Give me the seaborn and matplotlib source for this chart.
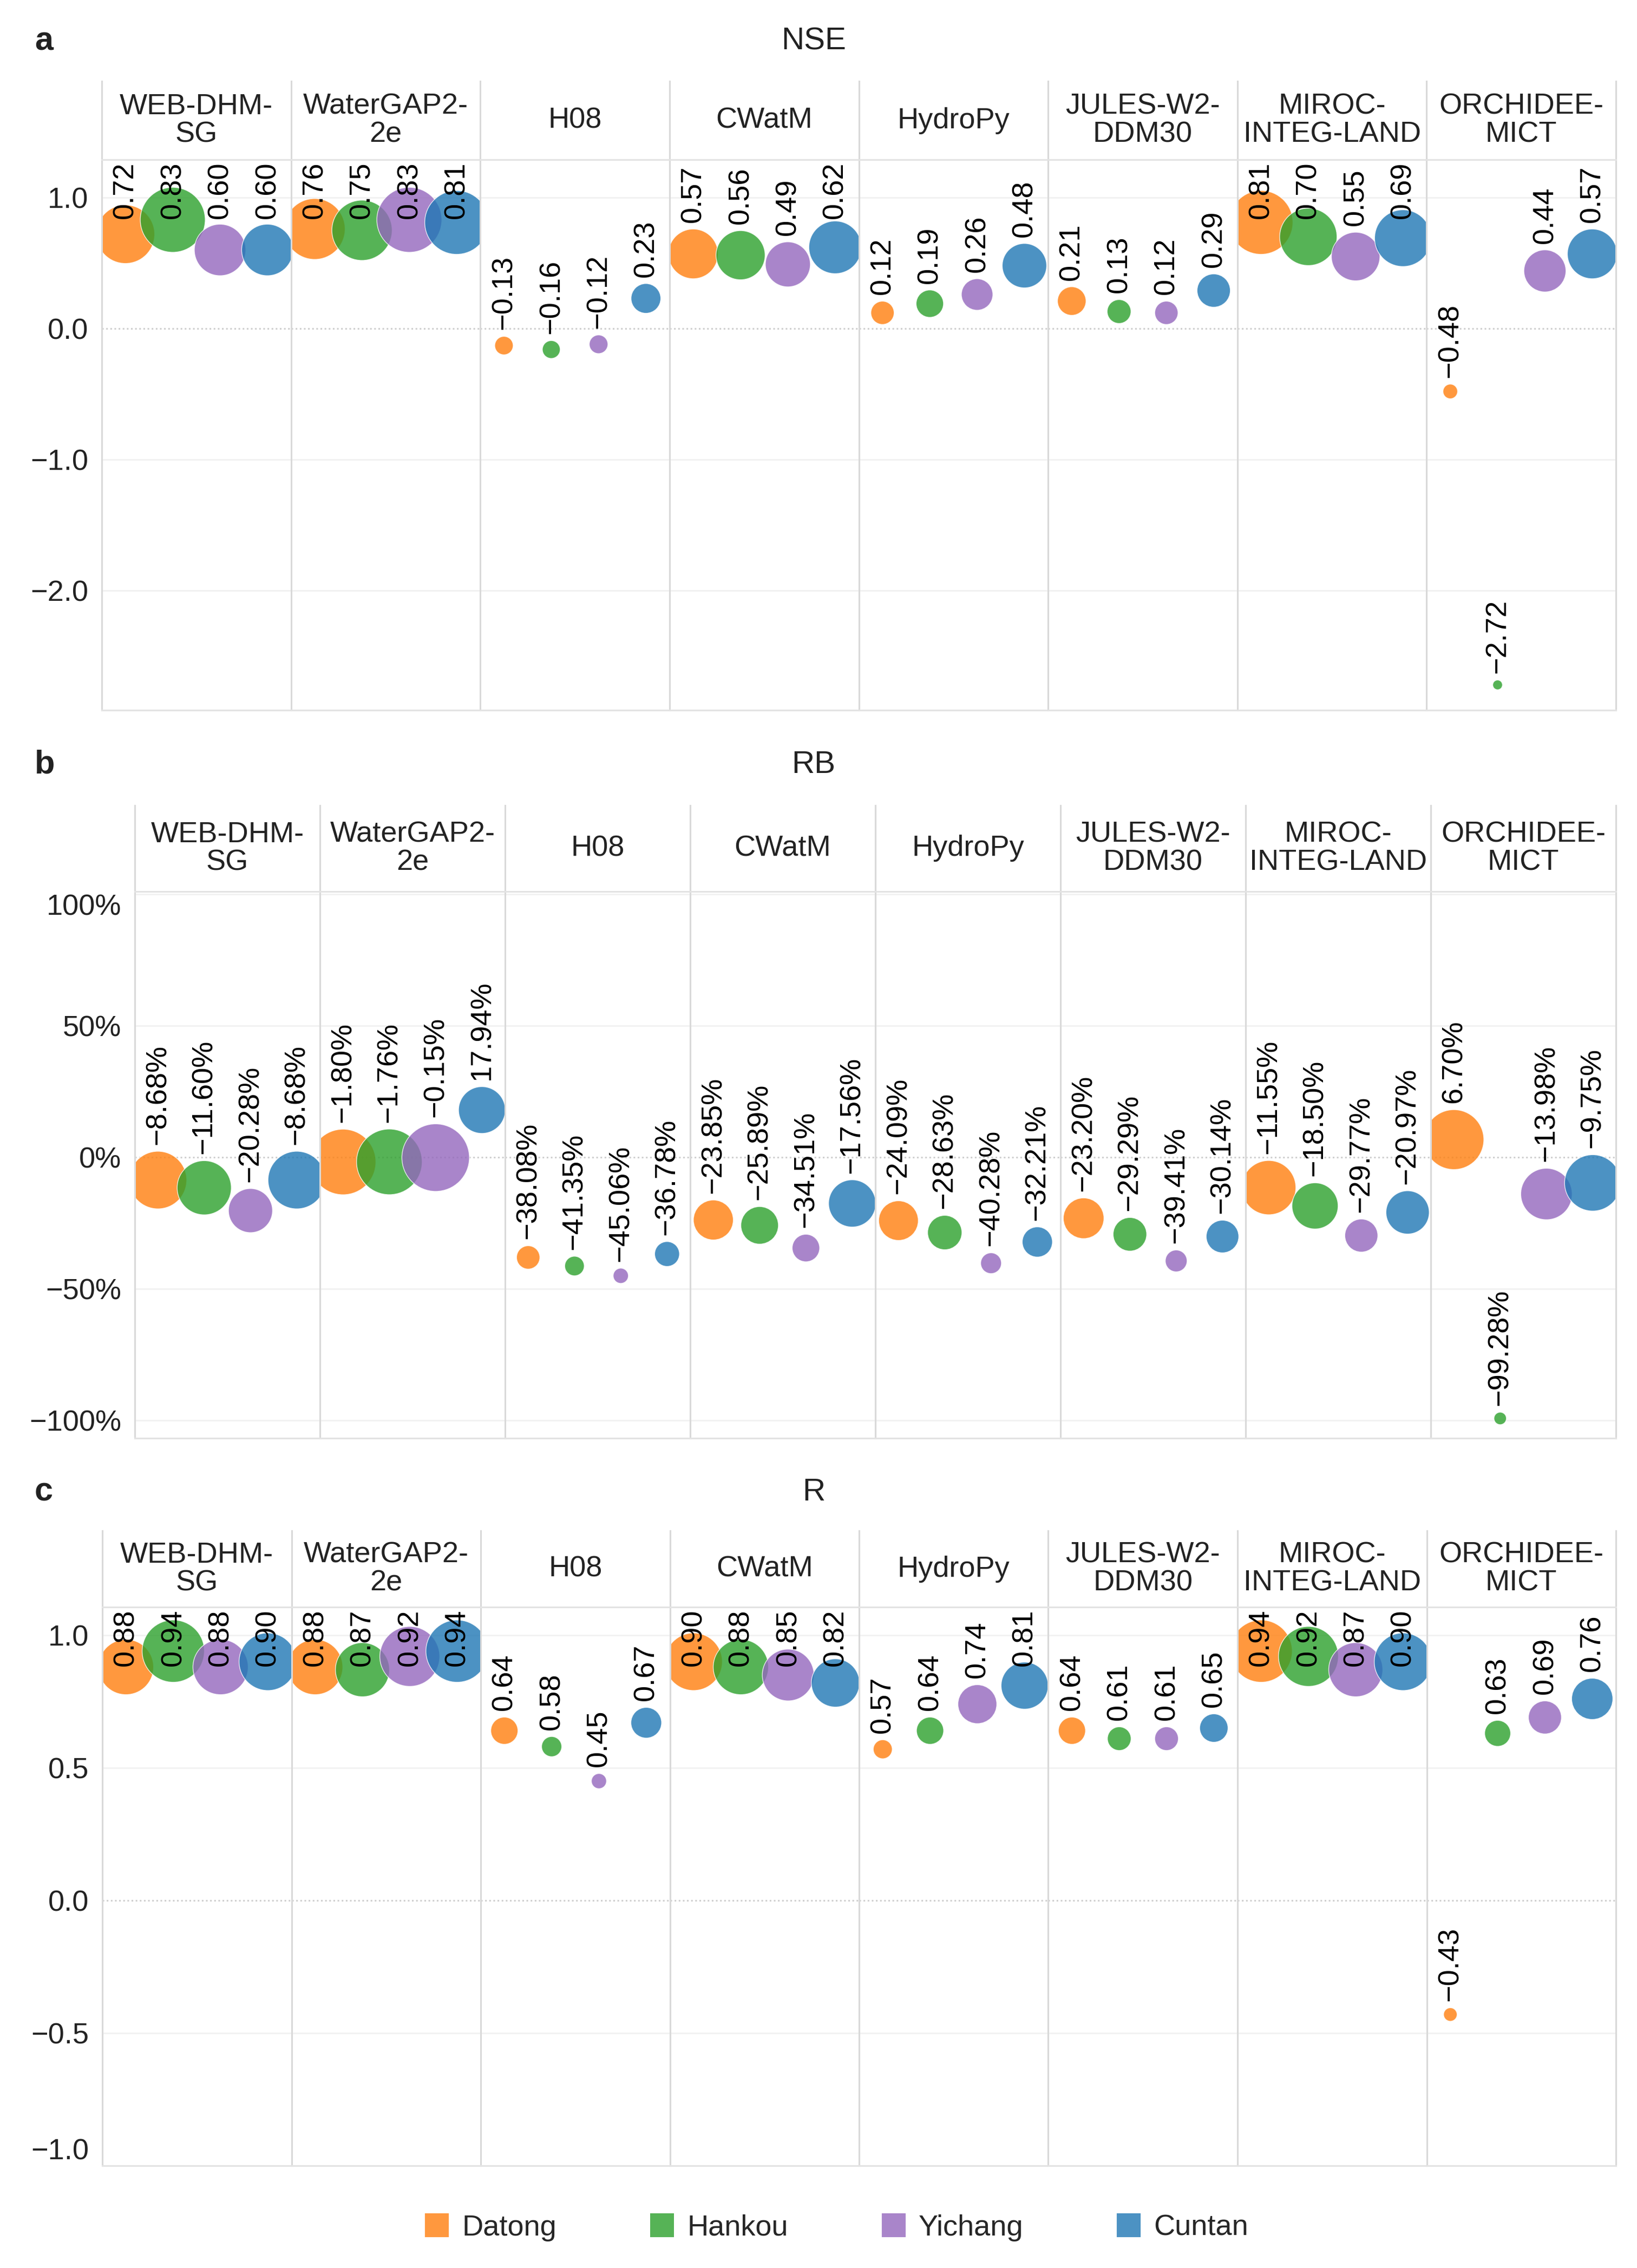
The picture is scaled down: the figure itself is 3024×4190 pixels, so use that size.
import numpy as np
import pandas as pd
import matplotlib
matplotlib.use("Agg")
import matplotlib.pyplot as plt
from matplotlib.lines import Line2D
import seaborn as sns

# Values
models = ["WEB-DHM-SG", "WaterGAP2-2e", "H08", "CWatM", "HydroPy",
          "JULES-W2-DDM30", "MIROC-INTEG-LAND", "ORCHIDEE-MICT"]
model_titles = ["WEB-DHM-\nSG", "WaterGAP2-\n2e", "H08", "CWatM", "HydroPy",
                "JULES-W2-\nDDM30", "MIROC-\nINTEG-LAND", "ORCHIDEE-\nMICT"]
stations = ["Datong", "Hankou", "Yichang", "Cuntan"]

# one row per model, one column per station
nse = [[0.72, 0.83, 0.60, 0.60],
       [0.76, 0.75, 0.83, 0.81],
       [-0.13, -0.16, -0.12, 0.23],
       [0.57, 0.56, 0.49, 0.62],
       [0.12, 0.19, 0.26, 0.48],
       [0.21, 0.13, 0.12, 0.29],
       [0.81, 0.70, 0.55, 0.69],
       [-0.48, -2.72, 0.44, 0.57]]

rb = [[-8.68, -11.60, -20.28, -8.68],
      [-1.80, -1.76, -0.15, 17.94],
      [-38.08, -41.35, -45.06, -36.78],
      [-23.85, -25.89, -34.51, -17.56],
      [-24.09, -28.63, -40.28, -32.21],
      [-23.20, -29.29, -39.41, -30.14],
      [-11.55, -18.50, -29.77, -20.97],
      [6.70, -99.28, -13.98, -9.75]]

r = [[0.88, 0.94, 0.88, 0.90],
     [0.88, 0.87, 0.92, 0.94],
     [0.64, 0.58, 0.45, 0.67],
     [0.90, 0.88, 0.85, 0.82],
     [0.57, 0.64, 0.74, 0.81],
     [0.64, 0.61, 0.61, 0.65],
     [0.94, 0.92, 0.87, 0.90],
     [-0.43, 0.63, 0.69, 0.76]]

nse_ticks = [-2.0, -1.0, 0.0, 1.0]
nse_ticklabels = ["\u22122.0", "\u22121.0", "0.0", "1.0"]
rb_ticks = [-100, -50, 0, 50, 100]
rb_ticklabels = ["\u2212100%", "\u221250%", "0%", "50%", "100%"]
r_ticks = [-1.0, -0.5, 0.0, 0.5, 1.0]
r_ticklabels = ["\u22121.0", "\u22120.5", "0.0", "0.5", "1.0"]

palette = {"Datong": "#ff7f0e", "Hankou": "#2ca02c",
           "Yichang": "#9467bd", "Cuntan": "#1f77b4"}

W, H, DPI = 3024, 4190, 200
FS = 19.5

# long table
rows = []
for metric, table in [("NSE", nse), ("RB", rb), ("R", r)]:
    for model, vals in zip(models, table):
        for k, (st, v) in enumerate(zip(stations, vals)):
            rows.append(dict(metric=metric, model=model, station=st, slot=k, value=v))
df = pd.DataFrame(rows)


# bubble diameter in pixels (piecewise size scale of each panel)
def bubble_px(metric, v):
    if metric == "NSE":
        d = np.interp(v, [-2.72, -0.48, -0.16, 0.12, 0.83], [16, 25, 31, 41, 118])
    elif metric == "RB":
        d = max(123 - 2.15 * abs(v), 21)
    else:
        d = max(113 - 216 * (0.94 - v), 23 + 3.4 * (v + 0.43))
    return d + 2


df["diam"] = [bubble_px(m, v) for m, v in zip(df["metric"], df["value"])]
df["area"] = (df["diam"] * 72 / DPI) ** 2
AMAX = float(df["area"].max())

sns.set_theme(style="white")
plt.rcParams["font.family"] = ["Liberation Sans", "DejaVu Sans"]
plt.rcParams["axes.unicode_minus"] = True

fig = plt.figure(figsize=(W / DPI, H / DPI), dpi=DPI)


def px_axes(x0, y0, x1, y1):
    return fig.add_axes([x0 / W, 1 - y1 / H, (x1 - x0) / W, (y1 - y0) / H])


panels = [
    dict(metric="NSE", letter="a", title_y=77, head_top=150, top=295, bottom=1312,
         left=188, ylim=(-2.913, 1.289), ticks=nse_ticks, ticklabels=nse_ticklabels,
         fmt="{:.2f}"),
    dict(metric="RB", letter="b", title_y=1413, head_top=1488, top=1647, bottom=2657,
         left=249, ylim=(-106.8, 101.0), ticks=rb_ticks, ticklabels=rb_ticklabels,
         fmt="{:.2f}%"),
    dict(metric="R", letter="c", title_y=2757, head_top=2828, top=2969, bottom=4001,
         left=189, ylim=(-1.0, 1.106), ticks=r_ticks, ticklabels=r_ticklabels,
         fmt="{:.2f}"),
]
RIGHT = 2985
SEP = "#d9d9d9"
LINE = "#e3e3e3"

labels = []
for p in panels:
    fig.text(64 / W, 1 - p["title_y"] / H, p["letter"], fontsize=22, fontweight="bold",
             ha="left", va="center", color="#222222")
    fig.text(0.497, 1 - p["title_y"] / H, p["metric"], fontsize=21, ha="center",
             va="center", color="#222222")
    col_w = (RIGHT - p["left"]) / len(models)
    for j, (model, title) in enumerate(zip(models, model_titles)):
        x0 = p["left"] + j * col_w
        x1 = x0 + col_w
        last = j == len(models) - 1

        # facet header
        hax = px_axes(x0, p["head_top"], x1, p["top"])
        hax.set_xticks([])
        hax.set_yticks([])
        hax.set_facecolor("none")
        for s in ["top", "bottom"]:
            hax.spines[s].set_visible(False)
        hax.spines["left"].set_color(SEP)
        hax.spines["left"].set_linewidth(1.1)
        hax.spines["right"].set_visible(last)
        hax.spines["right"].set_color(SEP)
        hax.spines["right"].set_linewidth(1.1)
        hax.text(0.5, 0.5, title, ha="center", va="center", fontsize=FS,
                 linespacing=1.05, color="#222222", transform=hax.transAxes)

        # facet plot
        ax = px_axes(x0, p["top"], x1, p["bottom"])
        sub = df[(df["metric"] == p["metric"]) & (df["model"] == model)]
        for t in p["ticks"]:
            if t == 0:
                ax.axhline(0, color="#cfcfcf", lw=1.1, ls=(0, (1, 1.5)), zorder=1)
            else:
                ax.axhline(t, color="#f1f1f1", lw=1.0, zorder=1)
        sns.scatterplot(data=sub, x="slot", y="value", hue="station", hue_order=stations,
                        palette=palette, size="area", sizes=(0, AMAX),
                        size_norm=(0, AMAX), alpha=0.8, edgecolor="white",
                        linewidth=0.5, legend=False, ax=ax, zorder=2)
        for _, row in sub.iterrows():
            off = (row["diam"] / 2 + 12) * 72 / DPI
            txt = p["fmt"].format(row["value"]).replace("-", "\u2212")
            ann = ax.annotate(txt, xy=(row["slot"], row["value"]), xytext=(0, off),
                              textcoords="offset points", rotation=90, ha="center",
                              va="bottom", fontsize=FS, color="black", zorder=4,
                              annotation_clip=False)
            labels.append((ann, ax))

        ax.set_xlim(-0.5, 3.5)
        ax.set_ylim(*p["ylim"])
        ax.set_xlabel("")
        ax.set_ylabel("")
        ax.set_xticks([])
        ax.set_facecolor("none")
        ax.set_yticks(p["ticks"])
        if j == 0:
            ax.set_yticklabels(p["ticklabels"])
            ax.tick_params(axis="y", length=0, pad=9, labelsize=FS, labelcolor="#222222")
            tl = ax.get_yticklabels()
            if p["metric"] == "RB":
                tl[-1].set_va("top")
            if p["metric"] == "R":
                tl[0].set_va("bottom")
        else:
            ax.tick_params(axis="y", length=0, labelleft=False)
        ax.spines["left"].set_color(SEP)
        ax.spines["left"].set_linewidth(1.1)
        ax.spines["right"].set_visible(last)
        ax.spines["right"].set_color(SEP)
        ax.spines["right"].set_linewidth(1.1)
        ax.spines["top"].set_color(LINE)
        ax.spines["top"].set_linewidth(1.1)
        ax.spines["bottom"].set_color(LINE)
        ax.spines["bottom"].set_linewidth(1.1)

# keep value labels inside the plot area (pushed down below the header)
fig.canvas.draw()
renderer = fig.canvas.get_renderer()
for ann, ax in labels:
    bb = ann.get_window_extent(renderer)
    top = ax.get_window_extent(renderer).y1 - 3
    if bb.y1 > top:
        dx, dy = ann.xyann
        ann.xyann = (dx, dy - (bb.y1 - top) * 72 / DPI)

handles = [Line2D([], [], marker="s", ls="", color=palette[s], alpha=0.8,
                  markersize=15.5, markeredgewidth=0) for s in stations]
fig.legend(handles, stations, loc="center", bbox_to_anchor=(1546 / W, 1 - 4116 / H),
           ncol=4, frameon=False, fontsize=FS, handlelength=0.8, handletextpad=0.45,
           columnspacing=3.2)

fig.savefig("out.png", dpi=DPI)
